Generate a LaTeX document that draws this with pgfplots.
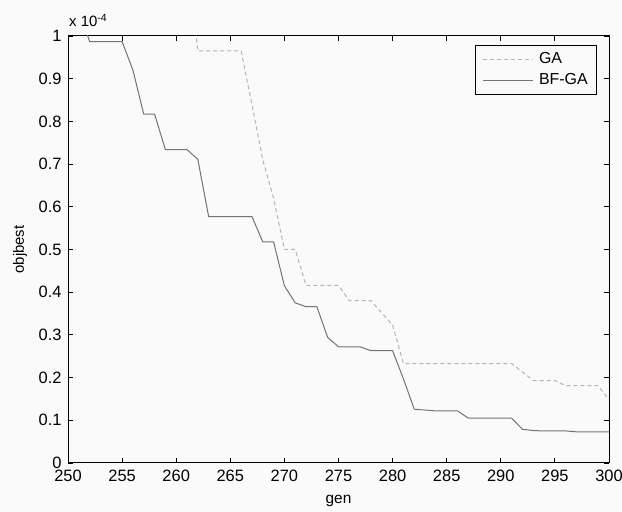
\documentclass[border=0pt]{standalone}
\usepackage{pgfplots}
\pgfplotsset{compat=1.18}
\usepackage{fontspec}
\setmainfont{Liberation Sans}
\definecolor{bg}{RGB}{250,250,250}
\definecolor{gaC}{RGB}{180,180,180}
\definecolor{bfC}{RGB}{115,115,115}
\begin{document}
\fontsize{16}{18}\selectfont
\begin{tikzpicture}[x=1bp,y=1bp]
\path[use as bounding box, fill=bg] (0,0) rectangle (622,512);
\begin{axis}[
  name=ax,
  at={(68bp,49bp)}, anchor=south west, scale only axis,
  width=541bp, height=427bp,
  xmin=250, xmax=300, ymin=0, ymax=1,
  xtick={250,255,...,300},
  ytick={0,0.1,0.2,0.3,0.4,0.5,0.6,0.7,0.8,0.9,1},
  yticklabels={0,0.1,0.2,0.3,0.4,0.5,0.6,0.7,0.8,0.9,1},
  /pgf/number format/assume math mode=true,
  /pgf/number format/1000 sep={},
  tick align=inside, major tick length=5bp,
  tick style={black, line width=0.9bp},
  axis line style={black, line width=1bp},
  every tick label/.append style={font=\fontsize{16.5}{18}\selectfont},
  xticklabel style={yshift=-2bp},
  yticklabel style={xshift=-1bp},
  xlabel={gen},
  xlabel style={at={(axis description cs:0.5,-0.088)}, anchor=center, font=\fontsize{15.5}{17}\selectfont},
  ylabel={objbest},
  ylabel style={at={(axis description cs:-0.0887,0.5)}, anchor=center, font=\fontsize{15}{17}\selectfont},
  legend style={at={(0.978,0.979)}, anchor=north east, draw=black, line width=0.8bp,
    fill=bg, font=\fontsize{16}{18}\selectfont, inner xsep=7bp, inner ysep=5bp,
    row sep=4bp, cells={anchor=west}},
  legend image code/.code={\draw[#1] (0bp,0bp) -- (50bp,0bp);},
  clip=true,
]
\addplot[gaC, line width=1bp, dash pattern=on 4bp off 3bp] coordinates {
(261,1.19) (262,0.965) (266,0.965) (267,0.84) (268,0.71) (269,0.62)
(270,0.50) (271,0.50) (272,0.416) (275,0.416) (276,0.380) (278,0.380)
(280,0.323) (281,0.233) (291,0.233) (293,0.193) (295,0.193) (296,0.181)
(299,0.181) (300,0.148)
};
\addlegendentry{\hspace{4bp}GA}
\addplot[bfC, line width=1bp] coordinates {
(250,1.12) (251,1.06) (252,0.987) (255,0.987) (256,0.920) (257,0.817)
(258,0.817) (259,0.734) (261,0.734) (262,0.711) (263,0.577) (267,0.577)
(268,0.518) (269,0.518) (270,0.415) (271,0.375) (272,0.366) (273,0.366)
(274,0.294) (275,0.272) (277,0.272) (278,0.263) (280,0.263) (281,0.197)
(282,0.126) (283,0.124) (284,0.122) (286,0.122) (287,0.105) (291,0.105)
(292,0.079) (293,0.076) (294,0.075) (296,0.075) (297,0.073) (300,0.073)
};
\addlegendentry{\hspace{4bp}BF-GA}
\end{axis}
\node[anchor=base west, inner sep=0pt, font=\fontsize{15}{17}\selectfont] at ([xshift=1bp,yshift=9bp]ax.north west) {x 10\textsuperscript{-4}};
\end{tikzpicture}
\end{document}
